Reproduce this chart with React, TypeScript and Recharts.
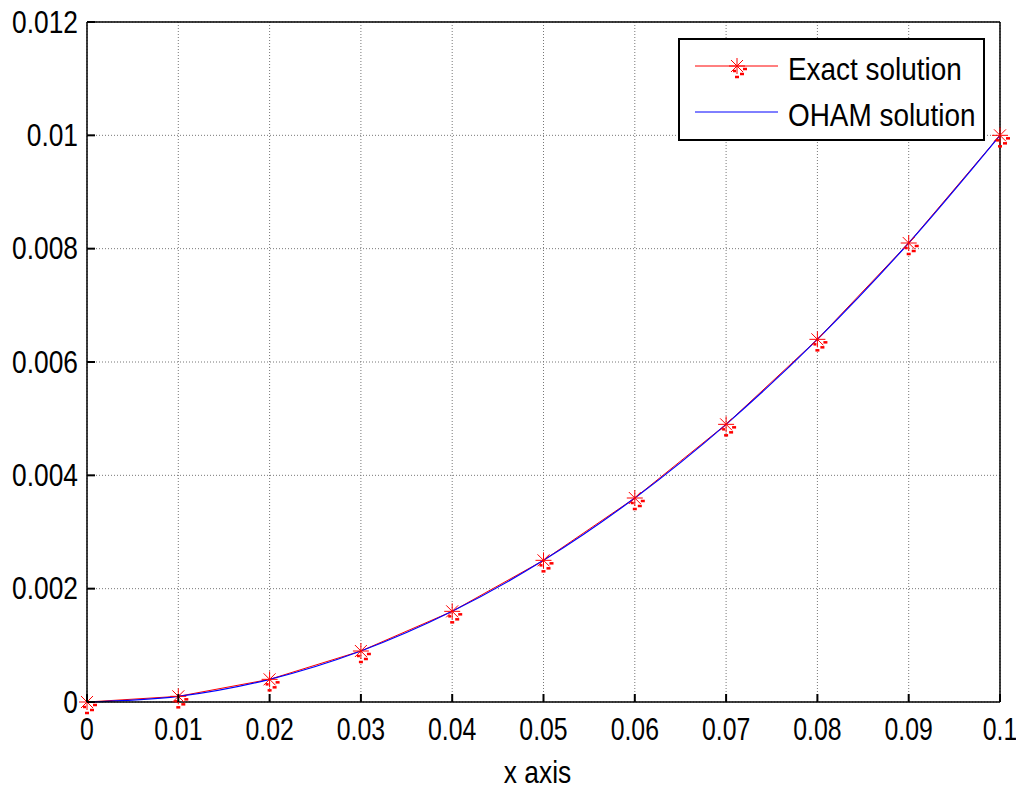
import React from "react";
import {
  CartesianGrid,
  Label,
  Line,
  LineChart,
  ReferenceLine,
  XAxis,
  YAxis,
} from "recharts";

const xValues = [0, 0.01, 0.02, 0.03, 0.04, 0.05, 0.06, 0.07, 0.08, 0.09, 0.1];
const exactValues = [0, 0.0001, 0.0004, 0.0009, 0.0016, 0.0025, 0.0036, 0.0049, 0.0064, 0.0081, 0.01];
const ohamValues = [0, 0.0001, 0.0004, 0.0009, 0.0016, 0.0025, 0.0036, 0.0049, 0.0064, 0.0081, 0.01];
const xTickLabels = ["0", "0.01", "0.02", "0.03", "0.04", "0.05", "0.06", "0.07", "0.08", "0.09", "0.1"];
const yTicks = [0, 0.002, 0.004, 0.006, 0.008, 0.01, 0.012];
const yTickLabels = ["0", "0.002", "0.004", "0.006", "0.008", "0.01", "0.012"];

const data = xValues.map((x, i) => ({ x, exact: exactValues[i], oham: ohamValues[i] }));

const FONT = "'Liberation Sans', Arial, sans-serif";
const FS = 31;

// squeezed text, the matlab export looks horizontally compressed
function NarrowText({ x, y, sx, anchor = "start", children }: any) {
  return (
    <text
      transform={`translate(${x},${y}) scale(${sx},1)`}
      x={0}
      y={0}
      textAnchor={anchor}
      dominantBaseline="central"
      fontSize={FS}
      fontFamily={FONT}
      fill="#000"
    >
      {children}
    </text>
  );
}

// asterisk marker like matlab's '*' (with the little blotches of the export)
function Star({ cx, cy }: { cx?: number; cy?: number }) {
  if (cx == null || cy == null) return null;
  const r = 8;
  const d = 6;
  return (
    <g stroke="#ff0000" strokeWidth={1}>
      <line x1={cx - r} y1={cy} x2={cx + r} y2={cy} />
      <line x1={cx} y1={cy - r} x2={cx} y2={cy + r} />
      <line x1={cx - d} y1={cy - d} x2={cx + d} y2={cy + d} />
      <line x1={cx - d} y1={cy + d} x2={cx + d} y2={cy - d} />
      <g strokeWidth={2.5}>
        <line x1={cx + 6} y1={cy + 3} x2={cx + 10} y2={cy + 3} />
        <line x1={cx - 4} y1={cy + 5} x2={cx - 1} y2={cy + 5} />
        <line x1={cx + 3} y1={cy + 8} x2={cx + 7} y2={cy + 8} />
        <line x1={cx - 2} y1={cy + 11} x2={cx + 2} y2={cy + 11} />
      </g>
    </g>
  );
}

function XTick({ x, y, payload }: any) {
  const idx = xValues.indexOf(payload.value);
  const axisY = y - 28;
  return (
    <g>
      <line x1={x} y1={axisY} x2={x} y2={axisY - 8} stroke="#000" strokeWidth={2} />
      <NarrowText x={x} y={y} sx={0.8} anchor="middle">
        {idx >= 0 ? xTickLabels[idx] : payload.value}
      </NarrowText>
    </g>
  );
}

function YTick({ x, y, payload }: any) {
  const idx = yTicks.indexOf(payload.value);
  const axisX = x + 9;
  return (
    <g>
      <line x1={axisX} y1={y} x2={axisX + 8} y2={y} stroke="#000" strokeWidth={2} />
      <NarrowText x={x} y={y} sx={0.85} anchor="end">
        {idx >= 0 ? yTickLabels[idx] : payload.value}
      </NarrowText>
    </g>
  );
}

function XAxisTitle({ viewBox }: any) {
  if (!viewBox) return null;
  return (
    <NarrowText x={viewBox.x + viewBox.width / 2 - 6} y={viewBox.y + 70} sx={0.85} anchor="middle">
      x axis
    </NarrowText>
  );
}

function LegendBox() {
  return (
    <div
      style={{
        position: "absolute",
        left: 678,
        top: 38,
        width: 303,
        height: 99,
        border: "2px solid #000",
        background: "#fff",
      }}
    >
      <svg width={303} height={99} style={{ position: "absolute", left: 0, top: 0 }}>
        <line x1={15} y1={26} x2={98} y2={26} stroke="#ff0000" strokeWidth={1} />
        <Star cx={57} cy={26} />
        <line x1={15} y1={72} x2={98} y2={72} stroke="#0000ff" strokeWidth={1} />
        <NarrowText x={108} y={29} sx={0.9}>
          Exact solution
        </NarrowText>
        <NarrowText x={108} y={75} sx={0.9}>
          OHAM solution
        </NarrowText>
      </svg>
    </div>
  );
}

export default function App() {
  return (
    <div style={{ position: "absolute", left: 0, top: 0, width: 1016, height: 789, background: "#fff" }}>
      <LineChart width={1016} height={789} data={data} margin={{ top: 22, right: 16, bottom: 0, left: 0 }}>
        <CartesianGrid stroke="#777" strokeDasharray="1 2" />
        <XAxis
          dataKey="x"
          type="number"
          domain={[0, 0.1]}
          ticks={xValues}
          height={87}
          tickLine={false}
          tickSize={0}
          tickMargin={28}
          tick={<XTick />}
          axisLine={{ stroke: "#000", strokeWidth: 1.5 }}
        >
          <Label content={<XAxisTitle />} />
        </XAxis>
        <YAxis
          type="number"
          domain={[0, 0.012]}
          ticks={yTicks}
          width={87}
          tickLine={false}
          tickSize={0}
          tickMargin={9}
          tick={<YTick />}
          axisLine={{ stroke: "#000", strokeWidth: 1.5 }}
        />
        <ReferenceLine x={0.1} stroke="#000" strokeWidth={1.5} />
        <ReferenceLine y={0.012} stroke="#000" strokeWidth={1.5} />
        <Line
          dataKey="exact"
          name="Exact solution"
          stroke="#ff0000"
          strokeWidth={1}
          dot={<Star />}
          activeDot={false}
          isAnimationActive={false}
        />
        <Line
          dataKey="oham"
          name="OHAM solution"
          type="monotone"
          stroke="#0000ff"
          strokeWidth={1.2}
          dot={false}
          activeDot={false}
          isAnimationActive={false}
        />
      </LineChart>
      <LegendBox />
    </div>
  );
}
